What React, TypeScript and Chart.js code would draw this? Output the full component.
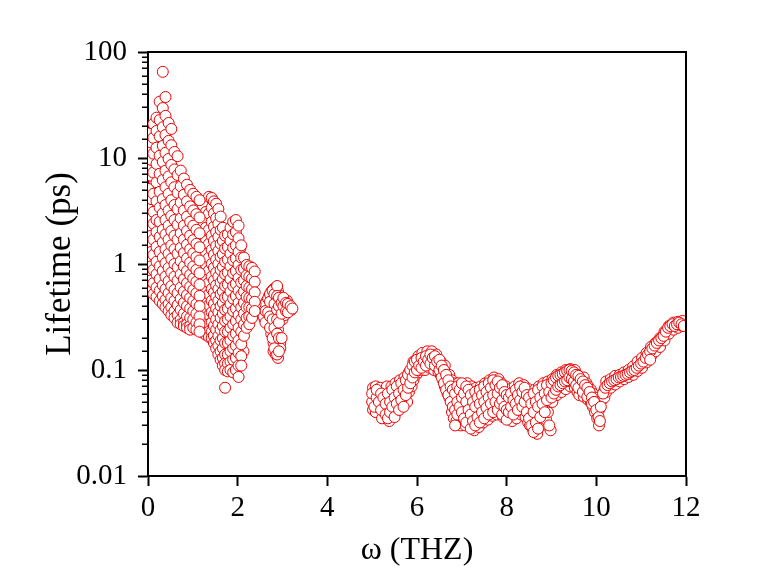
import React, { useEffect, useRef } from "react";
import { Chart, registerables } from "chart.js";

Chart.register(...registerables);

// Acoustic branch, 0–1.2 THz: x = ω (THz), y = lifetime (ps)
const acousticLowPoints: [number, number][] = [
  [0.01, 17], [0.01, 12.5], [0.01, 8.2], [0.01, 5.1], [0.01, 3.3], [0.01, 2.2], [0.01, 1.55], [0.01, 1.1], [0.01, 0.78], [0.01, 0.58],
  [0.07, 14], [0.07, 9.6], [0.07, 6.8], [0.07, 4.1], [0.07, 2.7], [0.07, 1.85], [0.07, 1.3], [0.07, 0.95], [0.07, 0.7], [0.07, 0.55],
  [0.12, 21], [0.12, 15.5], [0.12, 11], [0.12, 7.3], [0.12, 4.6], [0.12, 3.1], [0.12, 2.4], [0.12, 1.7], [0.12, 1.22], [0.12, 0.88], [0.12, 0.66], [0.12, 0.52],
  [0.19, 24], [0.19, 18], [0.19, 12.5], [0.19, 8.8], [0.19, 5.9], [0.19, 3.9], [0.19, 2.6], [0.19, 2.0], [0.19, 1.45], [0.19, 1.05], [0.19, 0.8], [0.19, 0.6], [0.19, 0.49],
  [0.26, 34], [0.26, 22.8], [0.26, 16], [0.26, 10.5], [0.26, 7.1], [0.26, 4.8], [0.26, 3.4], [0.26, 2.5], [0.26, 1.8], [0.26, 1.3], [0.26, 0.95], [0.26, 0.72], [0.26, 0.56], [0.26, 0.45],
  [0.33, 65], [0.33, 29.6], [0.33, 19.5], [0.33, 13], [0.33, 9.2], [0.33, 6.2], [0.33, 4.1], [0.33, 3.0], [0.33, 2.1], [0.33, 1.6], [0.33, 1.15], [0.33, 0.86], [0.33, 0.63], [0.33, 0.5], [0.33, 0.42],
  [0.39, 37.6], [0.39, 25], [0.39, 16.5], [0.39, 11.2], [0.39, 7.6], [0.39, 5.3], [0.39, 3.6], [0.39, 2.6], [0.39, 1.9], [0.39, 1.38], [0.39, 1.02], [0.39, 0.76], [0.39, 0.58], [0.39, 0.46], [0.39, 0.39],
  [0.46, 21.4], [0.46, 14.5], [0.46, 9.8], [0.46, 6.7], [0.46, 4.6], [0.46, 3.2], [0.46, 2.3], [0.46, 1.7], [0.46, 1.25], [0.46, 0.92], [0.46, 0.69], [0.46, 0.53], [0.46, 0.42], [0.46, 0.36],
  [0.52, 18.8], [0.52, 13.2], [0.52, 8.6], [0.52, 5.9], [0.52, 4.0], [0.52, 2.85], [0.52, 2.05], [0.52, 1.5], [0.52, 1.12], [0.52, 0.83], [0.52, 0.62], [0.52, 0.48], [0.52, 0.39], [0.52, 0.33],
  [0.59, 11.4], [0.59, 7.8], [0.59, 5.3], [0.59, 3.6], [0.59, 2.6], [0.59, 1.85], [0.59, 1.38], [0.59, 1.0], [0.59, 0.76], [0.59, 0.57], [0.59, 0.45], [0.59, 0.36], [0.59, 0.31],
  [0.66, 10.4], [0.66, 6.9], [0.66, 4.7], [0.66, 3.3], [0.66, 2.35], [0.66, 1.7], [0.66, 1.25], [0.66, 0.93], [0.66, 0.7], [0.66, 0.53], [0.66, 0.41], [0.66, 0.33], [0.66, 0.28],
  [0.73, 7.6], [0.73, 5.4], [0.73, 3.8], [0.73, 2.7], [0.73, 1.95], [0.73, 1.42], [0.73, 1.06], [0.73, 0.8], [0.73, 0.6], [0.73, 0.47], [0.73, 0.37], [0.73, 0.3], [0.73, 0.27],
  [0.8, 6.4], [0.8, 4.5], [0.8, 3.2], [0.8, 2.3], [0.8, 1.7], [0.8, 1.27], [0.8, 0.95], [0.8, 0.72], [0.8, 0.55], [0.8, 0.43], [0.8, 0.34], [0.8, 0.28], [0.8, 0.26],
  [0.87, 5.6], [0.87, 3.9], [0.87, 2.8], [0.87, 2.05], [0.87, 1.52], [0.87, 1.13], [0.87, 0.86], [0.87, 0.66], [0.87, 0.51], [0.87, 0.4], [0.87, 0.32], [0.87, 0.27], [0.87, 0.25],
  [0.94, 5.0], [0.94, 3.5], [0.94, 2.5], [0.94, 1.85], [0.94, 1.38], [0.94, 1.03], [0.94, 0.79], [0.94, 0.61], [0.94, 0.48], [0.94, 0.38], [0.94, 0.31], [0.94, 0.26], [0.94, 0.24],
  [1.01, 4.6], [1.01, 3.2], [1.01, 2.3], [1.01, 1.68], [1.01, 1.26], [1.01, 0.95], [1.01, 0.73], [1.01, 0.57], [1.01, 0.45], [1.01, 0.36], [1.01, 0.3], [1.01, 0.25],
  [1.08, 4.3], [1.08, 2.95], [1.08, 2.1], [1.08, 1.55], [1.08, 1.16], [1.08, 0.88], [1.08, 0.68], [1.08, 0.53], [1.08, 0.42], [1.08, 0.34], [1.08, 0.28], [1.08, 0.24],
  [1.15, 4.0], [1.15, 2.75], [1.15, 1.95], [1.15, 1.44], [1.15, 1.08], [1.15, 0.82], [1.15, 0.64], [1.15, 0.5], [1.15, 0.4], [1.15, 0.32], [1.15, 0.27], [1.15, 0.23],
];

// Acoustic branch, 1.2–2.4 THz
const acousticHighPoints: [number, number][] = [
  [1.22, 3.6], [1.22, 2.5], [1.22, 1.8], [1.22, 1.35], [1.22, 1.02], [1.22, 0.78], [1.22, 0.6], [1.22, 0.47], [1.22, 0.38], [1.22, 0.31], [1.22, 0.26], [1.22, 0.225],
  [1.29, 3.1], [1.29, 2.2], [1.29, 1.65], [1.29, 1.25], [1.29, 0.96], [1.29, 0.74], [1.29, 0.58], [1.29, 0.45], [1.29, 0.36], [1.29, 0.3], [1.29, 0.25], [1.29, 0.215],
  [1.36, 4.3], [1.36, 3.0], [1.36, 2.1], [1.36, 1.55], [1.36, 1.15], [1.36, 0.87], [1.36, 0.67], [1.36, 0.52], [1.36, 0.41], [1.36, 0.33], [1.36, 0.27], [1.36, 0.23], [1.36, 0.205],
  [1.42, 4.2], [1.42, 3.4], [1.42, 2.5], [1.42, 1.85], [1.42, 1.36], [1.42, 1.0], [1.42, 0.76], [1.42, 0.58], [1.42, 0.45], [1.42, 0.35], [1.42, 0.28], [1.42, 0.23], [1.42, 0.2],
  [1.47, 3.9], [1.47, 3.0], [1.47, 2.25], [1.47, 1.65], [1.47, 1.22], [1.47, 0.92], [1.47, 0.7], [1.47, 0.54], [1.47, 0.42], [1.47, 0.33], [1.47, 0.26], [1.47, 0.21], [1.47, 0.18],
  [1.52, 3.7], [1.52, 2.7], [1.52, 2.0], [1.52, 1.48], [1.52, 1.1], [1.52, 0.83], [1.52, 0.63], [1.52, 0.49], [1.52, 0.38], [1.52, 0.3], [1.52, 0.24], [1.52, 0.19], [1.52, 0.16],
  [1.57, 3.3], [1.57, 2.4], [1.57, 1.8], [1.57, 1.33], [1.57, 1.0], [1.57, 0.76], [1.57, 0.58], [1.57, 0.45], [1.57, 0.35], [1.57, 0.27], [1.57, 0.21], [1.57, 0.17], [1.57, 0.14],
  [1.62, 2.8], [1.62, 2.1], [1.62, 1.55], [1.62, 1.17], [1.62, 0.88], [1.62, 0.67], [1.62, 0.52], [1.62, 0.4], [1.62, 0.31], [1.62, 0.24], [1.62, 0.19], [1.62, 0.15], [1.62, 0.125],
  [1.67, 2.2], [1.67, 1.65], [1.67, 1.24], [1.67, 0.94], [1.67, 0.72], [1.67, 0.55], [1.67, 0.43], [1.67, 0.34], [1.67, 0.26], [1.67, 0.2], [1.67, 0.16], [1.67, 0.13], [1.67, 0.11],
  [1.72, 1.85], [1.72, 1.4], [1.72, 1.05], [1.72, 0.8], [1.72, 0.62], [1.72, 0.48], [1.72, 0.37], [1.72, 0.29], [1.72, 0.23], [1.72, 0.18], [1.72, 0.14], [1.72, 0.115], [1.72, 0.1], [1.72, 0.068],
  [1.78, 1.9], [1.78, 1.45], [1.78, 1.1], [1.78, 0.83], [1.78, 0.64], [1.78, 0.49], [1.78, 0.38], [1.78, 0.3], [1.78, 0.23], [1.78, 0.18], [1.78, 0.14], [1.78, 0.115], [1.78, 0.097],
  [1.84, 2.2], [1.84, 1.65], [1.84, 1.25], [1.84, 0.95], [1.84, 0.72], [1.84, 0.55], [1.84, 0.42], [1.84, 0.32], [1.84, 0.25], [1.84, 0.19], [1.84, 0.15], [1.84, 0.12], [1.84, 0.1],
  [1.9, 2.5], [1.9, 1.9], [1.9, 1.42], [1.9, 1.08], [1.9, 0.82], [1.9, 0.62], [1.9, 0.47], [1.9, 0.36], [1.9, 0.27], [1.9, 0.21], [1.9, 0.16], [1.9, 0.125], [1.9, 0.095],
  [1.96, 2.6], [1.96, 2.0], [1.96, 1.5], [1.96, 1.13], [1.96, 0.86], [1.96, 0.65], [1.96, 0.5], [1.96, 0.38], [1.96, 0.29], [1.96, 0.22], [1.96, 0.17], [1.96, 0.13], [1.96, 0.1],
  [2.02, 2.3], [2.02, 1.75], [2.02, 1.3], [2.02, 0.98], [2.02, 0.74], [2.02, 0.56], [2.02, 0.43], [2.02, 0.33], [2.02, 0.25], [2.02, 0.19], [2.02, 0.145], [2.02, 0.11], [2.02, 0.086],
  [2.08, 1.5], [2.08, 1.15], [2.08, 0.88], [2.08, 0.67], [2.08, 0.51], [2.08, 0.39], [2.08, 0.3], [2.08, 0.23], [2.08, 0.175], [2.08, 0.135], [2.08, 0.11],
  [2.14, 1.15], [2.14, 0.9], [2.14, 0.7], [2.14, 0.55], [2.14, 0.43], [2.14, 0.34], [2.14, 0.27], [2.14, 0.21],
  [2.2, 0.98], [2.2, 0.78], [2.2, 0.62], [2.2, 0.49], [2.2, 0.39], [2.2, 0.31], [2.2, 0.25],
  [2.26, 0.95], [2.26, 0.76], [2.26, 0.6], [2.26, 0.48], [2.26, 0.39], [2.26, 0.32], [2.26, 0.27],
  [2.32, 0.92], [2.32, 0.73], [2.32, 0.58], [2.32, 0.47], [2.32, 0.38], [2.32, 0.31],
  [2.38, 0.85], [2.38, 0.68], [2.38, 0.54], [2.38, 0.44], [2.38, 0.36],
];

// Acoustic-branch points lying off the regular sequences above (drawn on top)
const acousticScatterPoints: [number, number][] = [
  [0.05, 3.8], [0.09, 1.15], [0.14, 6.1], [0.16, 0.74], [0.21, 2.9], [0.24, 13.8], [0.27, 0.64],
  [0.29, 5.4], [0.31, 1.42], [0.36, 9.9], [0.37, 0.53], [0.41, 2.2], [0.43, 4.3], [0.44, 0.82],
  [0.48, 11.7], [0.5, 1.85], [0.54, 0.44], [0.56, 3.1], [0.58, 7.0], [0.61, 1.15], [0.63, 0.35],
  [0.64, 2.05], [0.69, 0.62], [0.7, 5.8], [0.71, 1.6], [0.75, 0.34], [0.77, 2.6], [0.78, 0.88],
  [0.83, 4.1], [0.84, 0.47], [0.86, 1.3], [0.9, 0.29], [0.91, 2.2], [0.93, 0.7], [0.97, 3.7],
  [0.98, 0.41], [1.0, 1.1], [1.04, 0.28], [1.05, 1.9], [1.06, 0.6], [1.11, 3.3], [1.12, 0.37],
  [1.13, 1.25], [1.17, 0.26], [1.19, 2.2], [1.2, 0.72], [1.24, 0.43], [1.26, 1.5], [1.27, 2.8],
  [1.31, 0.33], [1.33, 0.9], [1.34, 1.9], [1.38, 0.25], [1.39, 0.6], [1.4, 3.7], [1.44, 1.2],
  [1.45, 0.4], [1.49, 2.6], [1.5, 0.22], [1.51, 0.75], [1.54, 1.6], [1.55, 0.3], [1.59, 0.5],
  [1.6, 2.2], [1.61, 0.17], [1.64, 0.95], [1.65, 0.36], [1.69, 0.14], [1.7, 0.6], [1.71, 1.3],
  [1.74, 0.25], [1.76, 0.85], [1.77, 0.12], [1.81, 1.6], [1.82, 0.35], [1.85, 0.56], [1.87, 0.13],
  [1.88, 1.15], [1.92, 0.28], [1.93, 2.1], [1.94, 0.7], [1.98, 0.42], [1.99, 0.12], [2.0, 1.05],
  [2.04, 0.2], [2.05, 0.6], [2.06, 1.4], [2.1, 0.32], [2.12, 0.8], [2.13, 0.15], [2.17, 0.45],
  [2.18, 0.95], [2.22, 0.33], [2.24, 0.62], [2.28, 0.42], [2.3, 0.82], [2.34, 0.34], [2.36, 0.55],
  [2.4, 0.42],
];

// Small loop around 2.5–3.2 THz
const loopPoints: [number, number][] = [
  [2.55, 0.35], [2.6, 0.4], [2.6, 0.3], [2.65, 0.45], [2.65, 0.33], [2.7, 0.5], [2.7, 0.38],
  [2.7, 0.28], [2.75, 0.55], [2.75, 0.42], [2.75, 0.22], [2.8, 0.58], [2.8, 0.47], [2.8, 0.35],
  [2.8, 0.18], [2.8, 0.15], [2.85, 0.6], [2.85, 0.4], [2.85, 0.28], [2.85, 0.2], [2.85, 0.14],
  [2.9, 0.55], [2.9, 0.45], [2.9, 0.33], [2.9, 0.24], [2.9, 0.16], [2.9, 0.13], [2.95, 0.5],
  [2.95, 0.38], [2.95, 0.18], [2.95, 0.16], [3.0, 0.45], [3.0, 0.36], [3.0, 0.3], [3.05, 0.42],
  [3.05, 0.33], [3.1, 0.45], [3.1, 0.38], [3.15, 0.4], [3.2, 0.37],
  [2.58, 0.38], [2.58, 0.32], [2.62, 0.42], [2.62, 0.36], [2.62, 0.28], [2.68, 0.47], [2.68, 0.35],
  [2.72, 0.52], [2.72, 0.44], [2.72, 0.32], [2.72, 0.25], [2.78, 0.56], [2.78, 0.3], [2.78, 0.2],
  [2.82, 0.52], [2.82, 0.42], [2.82, 0.25], [2.82, 0.16], [2.88, 0.62], [2.88, 0.5], [2.88, 0.37],
  [2.88, 0.3], [2.88, 0.22], [2.88, 0.14], [2.92, 0.48], [2.92, 0.4], [2.92, 0.28], [2.92, 0.2],
  [2.92, 0.15], [2.98, 0.43], [2.98, 0.34], [2.98, 0.2], [3.02, 0.48], [3.02, 0.4], [3.08, 0.43],
  [3.08, 0.36], [3.12, 0.42], [3.12, 0.35], [3.18, 0.4], [3.22, 0.38],
];

// Optical branch 5–12 THz
const opticalPoints: [number, number][] = [
  [5.0, 0.05], [5.0, 0.06], [5.05, 0.045], [5.1, 0.055], [5.1, 0.065], [5.15, 0.05], [5.2, 0.06],
  [5.2, 0.042], [5.25, 0.055], [5.3, 0.048], [5.3, 0.038], [5.35, 0.06], [5.35, 0.035], [5.4, 0.05],
  [5.4, 0.04], [5.45, 0.065], [5.45, 0.045], [5.5, 0.055], [5.5, 0.036], [5.55, 0.07], [5.55, 0.048],
  [5.6, 0.06], [5.6, 0.042], [5.65, 0.075], [5.65, 0.052], [5.7, 0.065], [5.7, 0.045], [5.75, 0.08],
  [5.75, 0.058], [5.8, 0.09], [5.8, 0.068], [5.85, 0.1], [5.85, 0.075], [5.9, 0.11], [5.9, 0.085],
  [5.95, 0.12], [5.95, 0.095], [6.0, 0.125], [6.0, 0.1], [6.05, 0.11], [6.1, 0.13], [6.1, 0.105],
  [6.15, 0.12], [6.2, 0.135], [6.2, 0.11], [6.25, 0.125], [6.3, 0.14], [6.3, 0.115], [6.35, 0.13],
  [6.4, 0.135], [6.4, 0.11], [6.45, 0.12], [6.5, 0.125], [6.5, 0.1], [6.55, 0.11], [6.55, 0.085],
  [6.6, 0.1], [6.6, 0.075], [6.65, 0.09], [6.65, 0.065], [6.7, 0.08], [6.7, 0.058], [6.75, 0.07],
  [6.75, 0.05], [6.8, 0.065], [6.8, 0.045],
  [6.85, 0.06], [6.85, 0.042], [6.85, 0.03], [6.9, 0.07], [6.9, 0.05], [6.9, 0.038], [6.95, 0.065],
  [6.95, 0.045], [7.0, 0.075], [7.0, 0.055], [7.0, 0.04], [7.05, 0.06], [7.05, 0.035], [7.1, 0.07],
  [7.1, 0.05], [7.1, 0.032], [7.15, 0.065], [7.15, 0.042], [7.2, 0.058], [7.2, 0.038], [7.2, 0.028],
  [7.25, 0.05], [7.25, 0.033], [7.3, 0.062], [7.3, 0.045], [7.3, 0.03], [7.35, 0.055], [7.35, 0.036],
  [7.4, 0.065], [7.4, 0.048], [7.4, 0.032], [7.45, 0.058], [7.45, 0.04], [7.5, 0.07], [7.5, 0.05],
  [7.5, 0.035], [7.55, 0.062], [7.55, 0.044], [7.6, 0.075], [7.6, 0.055], [7.6, 0.038], [7.65, 0.068],
  [7.65, 0.048], [7.7, 0.08], [7.7, 0.058], [7.7, 0.04], [7.75, 0.072], [7.75, 0.05], [7.8, 0.078],
  [7.8, 0.06], [7.8, 0.042], [7.85, 0.068], [7.85, 0.048], [7.9, 0.072], [7.9, 0.052], [7.9, 0.038],
  [7.95, 0.062], [7.95, 0.045], [8.0, 0.058], [8.0, 0.042], [8.0, 0.034], [8.05, 0.055], [8.05, 0.04],
  [8.1, 0.06], [8.1, 0.045], [8.15, 0.052], [8.15, 0.038], [8.2, 0.065], [8.2, 0.048], [8.25, 0.058],
  [8.25, 0.042], [8.3, 0.07], [8.3, 0.052], [8.35, 0.062], [8.35, 0.045], [8.4, 0.068], [8.4, 0.05],
  [8.45, 0.058], [8.45, 0.04], [8.5, 0.055], [8.5, 0.035], [8.55, 0.048], [8.55, 0.03], [8.6, 0.06],
  [8.6, 0.04], [8.6, 0.026], [8.65, 0.05], [8.65, 0.032], [8.7, 0.065], [8.7, 0.045], [8.7, 0.028],
  [8.75, 0.055], [8.75, 0.036], [8.8, 0.07], [8.8, 0.048], [8.85, 0.06], [8.85, 0.04], [8.9, 0.072],
  [8.9, 0.052], [8.95, 0.062], [8.95, 0.03], [9.0, 0.075], [9.0, 0.055],
  [9.05, 0.08], [9.05, 0.06], [9.1, 0.085], [9.1, 0.065], [9.15, 0.088], [9.15, 0.07], [9.2, 0.09],
  [9.2, 0.072], [9.25, 0.092], [9.25, 0.075], [9.3, 0.095], [9.3, 0.078], [9.35, 0.098], [9.35, 0.08],
  [9.4, 0.1], [9.4, 0.085], [9.45, 0.098], [9.45, 0.082], [9.5, 0.095], [9.5, 0.078], [9.55, 0.09],
  [9.55, 0.072], [9.6, 0.088], [9.6, 0.068], [9.65, 0.082], [9.7, 0.078], [9.7, 0.062], [9.75, 0.072],
  [9.8, 0.068], [9.8, 0.056], [9.85, 0.062], [9.9, 0.055], [9.9, 0.048], [9.95, 0.05], [10.0, 0.042],
  [10.05, 0.036], [10.08, 0.033], [10.1, 0.045], [10.15, 0.06],
  [10.2, 0.068], [10.25, 0.072], [10.3, 0.075], [10.35, 0.078], [10.4, 0.08], [10.45, 0.082],
  [10.5, 0.085], [10.55, 0.086], [10.6, 0.088], [10.65, 0.09], [10.7, 0.092], [10.75, 0.095],
  [10.8, 0.098], [10.85, 0.1], [10.9, 0.105], [10.95, 0.11], [11.0, 0.115], [11.05, 0.12],
  [11.1, 0.13], [11.15, 0.14], [11.2, 0.15], [11.2, 0.125], [11.25, 0.16], [11.3, 0.17],
  [11.35, 0.18], [11.4, 0.19], [11.45, 0.2], [11.5, 0.21], [11.55, 0.23], [11.6, 0.25],
  [11.65, 0.26], [11.7, 0.27], [11.75, 0.26], [11.8, 0.27], [11.85, 0.28], [11.9, 0.27], [11.95, 0.26],
];

// Further optical-branch points filling out the band
const opticalFillPoints: [number, number][] = [
  [5.02, 0.068], [5.02, 0.042], [5.08, 0.07], [5.08, 0.05], [5.08, 0.04], [5.12, 0.045],
  [5.18, 0.068], [5.18, 0.052], [5.22, 0.035], [5.22, 0.048], [5.28, 0.065], [5.28, 0.04],
  [5.33, 0.07], [5.33, 0.045], [5.38, 0.058], [5.38, 0.033], [5.43, 0.07], [5.43, 0.052],
  [5.43, 0.038], [5.48, 0.06], [5.48, 0.043], [5.52, 0.075], [5.52, 0.05], [5.52, 0.04],
  [5.58, 0.065], [5.58, 0.045], [5.62, 0.08], [5.62, 0.052], [5.68, 0.07], [5.68, 0.05],
  [5.72, 0.085], [5.72, 0.06], [5.78, 0.075], [5.78, 0.05], [5.82, 0.095], [5.82, 0.062],
  [5.88, 0.1], [5.88, 0.07], [5.92, 0.12], [5.92, 0.08], [5.98, 0.11], [5.98, 0.09],
  [6.03, 0.135], [6.03, 0.095], [6.08, 0.12], [6.08, 0.1], [6.12, 0.145], [6.12, 0.115],
  [6.18, 0.13], [6.18, 0.1], [6.23, 0.15], [6.23, 0.12], [6.28, 0.13], [6.28, 0.105],
  [6.33, 0.15], [6.33, 0.12], [6.38, 0.125], [6.38, 0.1], [6.43, 0.14], [6.43, 0.11],
  [6.48, 0.115], [6.48, 0.095], [6.53, 0.12], [6.53, 0.09], [6.58, 0.095], [6.58, 0.08],
  [6.62, 0.11], [6.62, 0.07], [6.68, 0.085], [6.68, 0.06], [6.72, 0.09], [6.72, 0.055],
  [6.78, 0.08], [6.78, 0.055], [6.78, 0.04], [6.82, 0.075], [6.82, 0.05], [6.82, 0.035],
  [6.88, 0.065], [6.88, 0.045], [6.88, 0.033], [6.92, 0.075], [6.92, 0.055], [6.92, 0.04],
  [6.98, 0.06], [6.98, 0.042], [6.98, 0.03], [7.02, 0.07], [7.02, 0.048], [7.02, 0.036],
  [7.08, 0.06], [7.08, 0.042], [7.08, 0.03], [7.12, 0.075], [7.12, 0.055], [7.12, 0.038],
  [7.18, 0.062], [7.18, 0.045], [7.18, 0.031], [7.22, 0.07], [7.22, 0.05], [7.22, 0.035],
  [7.28, 0.06], [7.28, 0.04], [7.28, 0.027], [7.32, 0.068], [7.32, 0.05], [7.32, 0.034],
  [7.38, 0.058], [7.38, 0.042], [7.38, 0.029], [7.42, 0.07], [7.42, 0.052], [7.42, 0.036],
  [7.48, 0.062], [7.48, 0.045], [7.48, 0.032], [7.52, 0.075], [7.52, 0.056], [7.52, 0.04],
  [7.58, 0.066], [7.58, 0.048], [7.58, 0.034], [7.62, 0.08], [7.62, 0.06], [7.62, 0.042],
  [7.68, 0.072], [7.68, 0.052], [7.68, 0.037], [7.72, 0.085], [7.72, 0.062], [7.72, 0.045],
  [7.78, 0.07], [7.78, 0.052], [7.78, 0.038], [7.82, 0.082], [7.82, 0.064], [7.82, 0.046],
  [7.88, 0.075], [7.88, 0.055], [7.88, 0.04], [7.92, 0.068], [7.92, 0.05], [7.92, 0.036],
  [7.98, 0.07], [7.98, 0.052], [7.98, 0.038], [8.02, 0.062], [8.02, 0.048], [8.02, 0.036],
  [8.08, 0.066], [8.08, 0.05], [8.08, 0.037], [8.12, 0.058], [8.12, 0.042], [8.12, 0.033],
  [8.18, 0.07], [8.18, 0.055], [8.18, 0.04], [8.22, 0.06], [8.22, 0.045], [8.22, 0.035],
  [8.28, 0.075], [8.28, 0.058], [8.28, 0.045], [8.32, 0.065], [8.32, 0.048], [8.32, 0.038],
  [8.38, 0.072], [8.38, 0.056], [8.38, 0.043], [8.42, 0.062], [8.42, 0.046], [8.42, 0.036],
  [8.48, 0.066], [8.48, 0.048], [8.48, 0.032], [8.52, 0.058], [8.52, 0.042], [8.52, 0.03],
  [8.58, 0.052], [8.58, 0.035], [8.58, 0.028], [8.62, 0.065], [8.62, 0.045], [8.62, 0.03],
  [8.68, 0.058], [8.68, 0.04], [8.68, 0.025], [8.72, 0.07], [8.72, 0.05], [8.72, 0.034],
  [8.78, 0.062], [8.78, 0.042], [8.78, 0.03], [8.82, 0.075], [8.82, 0.052], [8.82, 0.038],
  [8.88, 0.065], [8.88, 0.046], [8.88, 0.034], [8.92, 0.078], [8.92, 0.056], [8.92, 0.04],
  [8.98, 0.068], [8.98, 0.05], [8.98, 0.027], [9.02, 0.082], [9.02, 0.065], [9.02, 0.05],
  [9.08, 0.075], [9.08, 0.058], [9.12, 0.09], [9.12, 0.072], [9.12, 0.058], [9.18, 0.08],
  [9.18, 0.065], [9.22, 0.095], [9.22, 0.078], [9.22, 0.062], [9.28, 0.085], [9.28, 0.07],
  [9.32, 0.1], [9.32, 0.082], [9.32, 0.066], [9.38, 0.09], [9.38, 0.075], [9.42, 0.102],
  [9.42, 0.088], [9.42, 0.07], [9.48, 0.092], [9.48, 0.075], [9.52, 0.1], [9.52, 0.085],
  [9.52, 0.068], [9.58, 0.09], [9.58, 0.075], [9.58, 0.062], [9.62, 0.085], [9.62, 0.07],
  [9.62, 0.058], [9.68, 0.08], [9.68, 0.065], [9.72, 0.085], [9.72, 0.07], [9.72, 0.056],
  [9.78, 0.075], [9.78, 0.06], [9.82, 0.07], [9.82, 0.052], [9.88, 0.065], [9.88, 0.05],
  [9.92, 0.06], [9.92, 0.045], [9.97, 0.055], [9.97, 0.04], [10.02, 0.048], [10.02, 0.035],
  [10.06, 0.042], [10.06, 0.03], [10.12, 0.052], [10.18, 0.065], [10.18, 0.055],
  [10.22, 0.078], [10.22, 0.062], [10.32, 0.082], [10.32, 0.068], [10.42, 0.088], [10.42, 0.073],
  [10.52, 0.09], [10.52, 0.078], [10.62, 0.095], [10.62, 0.082], [10.72, 0.1], [10.72, 0.086],
  [10.82, 0.108], [10.82, 0.09], [10.92, 0.12], [10.92, 0.098], [11.02, 0.13], [11.02, 0.105],
  [11.12, 0.145], [11.12, 0.118], [11.22, 0.165], [11.22, 0.135], [11.32, 0.18], [11.32, 0.15],
  [11.42, 0.2], [11.42, 0.165], [11.52, 0.23], [11.52, 0.19], [11.62, 0.26], [11.62, 0.22],
  [11.72, 0.28], [11.72, 0.24], [11.82, 0.285], [11.82, 0.25], [11.92, 0.29], [11.92, 0.26],
];

const yTickValues = [0.01, 0.1, 1, 10, 100];
const yTickLabels = ["0.01", "0.1", "1", "10", "100"];
const xTitle = "ω (THZ)";
const yTitle = "Lifetime (ps)";

const FONT = "'Liberation Serif', 'Times New Roman', serif";
const RED = "rgb(238, 0, 0)";

const isMajorLog = (v: number) =>
  yTickValues.some((t) => Math.abs(v - t) / t < 1e-6);

const labelFor = (v: number) => {
  const i = yTickValues.findIndex((t) => Math.abs(v - t) / t < 1e-6);
  return i >= 0 ? yTickLabels[i] : "";
};

const framePlugin = {
  id: "frameAndMinorTicks",
  afterDraw(chart: any) {
    const { ctx, chartArea: a, scales } = chart;
    const y = scales.y;
    ctx.save();
    ctx.strokeStyle = "#000";
    ctx.lineWidth = 2;
    ctx.beginPath();
    ctx.moveTo(a.left - 1, a.top);
    ctx.lineTo(a.right, a.top);
    ctx.lineTo(a.right, a.bottom + 1);
    ctx.stroke();
    ctx.lineWidth = 1.5;
    ctx.beginPath();
    for (const t of y.ticks) {
      if (isMajorLog(t.value)) continue;
      const py = Math.round(y.getPixelForValue(t.value)) + 0.25;
      ctx.moveTo(a.left - 6, py);
      ctx.lineTo(a.left, py);
    }
    ctx.stroke();
    ctx.restore();
  },
};

const toXY = (pts: [number, number][]) => pts.map(([x, y]) => ({ x, y }));

export default function App() {
  const canvasRef = useRef<HTMLCanvasElement | null>(null);

  useEffect(() => {
    document.body.style.margin = "0";
    const canvas = canvasRef.current;
    if (!canvas) return;
    const pointStyle = {
      pointRadius: 5.5,
      pointBorderWidth: 1,
      borderColor: RED,
      backgroundColor: "#ffffff",
      pointBackgroundColor: "#ffffff",
      pointBorderColor: RED,
      clip: { left: 0, top: 0, right: 0, bottom: 0 },
    };
    const chart = new Chart(canvas, {
      type: "scatter",
      data: {
        datasets: [
          { label: "acoustic low", data: toXY(acousticLowPoints), ...pointStyle },
          { label: "acoustic high", data: toXY(acousticHighPoints), ...pointStyle },
          { label: "acoustic scatter", data: toXY(acousticScatterPoints), ...pointStyle },
          { label: "loop", data: toXY(loopPoints), ...pointStyle },
          { label: "optical", data: toXY(opticalPoints), ...pointStyle },
          { label: "optical fill", data: toXY(opticalFillPoints), ...pointStyle },
        ],
      },
      options: {
        animation: false,
        responsive: false,
        devicePixelRatio: 1,
        layout: { padding: { top: 52, right: 98, left: 0, bottom: 0 } },
        plugins: {
          legend: { display: false },
          tooltip: { enabled: false },
        },
        scales: {
          x: {
            type: "linear",
            min: 0,
            max: 12,
            afterFit: (s: any) => {
              s.height = 112;
            },
            ticks: {
              stepSize: 2,
              color: "#000",
              padding: 5,
              font: { family: FONT, size: 29 },
              maxRotation: 0,
            },
            grid: {
              display: true,
              drawOnChartArea: false,
              drawTicks: true,
              tickLength: 10,
              tickWidth: 2,
              tickColor: "#000",
            },
            border: { display: true, color: "#000", width: 2 },
            title: {
              display: true,
              text: xTitle,
              color: "#000",
              font: { family: FONT, size: 32 },
              padding: { top: 0, bottom: 18 },
            },
          },
          y: {
            type: "logarithmic",
            min: 0.01,
            max: 100,
            afterFit: (s: any) => {
              s.width = 148;
            },
            ticks: {
              autoSkip: false,
              color: "#000",
              padding: 11,
              font: { family: FONT, size: 29 },
              callback: (v: any) => labelFor(Number(v)),
            },
            grid: {
              display: true,
              drawOnChartArea: false,
              drawTicks: true,
              tickLength: 10,
              tickWidth: 2,
              tickColor: (c: any) =>
                c.tick && isMajorLog(c.tick.value) ? "#000" : "rgba(0,0,0,0)",
            },
            border: { display: true, color: "#000", width: 2 },
            title: {
              display: true,
              text: yTitle,
              color: "#000",
              font: { family: FONT, size: 35 },
              padding: { top: 40, bottom: 0 },
            },
          },
        },
      },
      plugins: [framePlugin],
    } as any);
    return () => chart.destroy();
  }, []);

  return (
    <div style={{ width: 784, height: 588, background: "#fff" }}>
      <canvas ref={canvasRef} width={784} height={588} style={{ display: "block" }} />
    </div>
  );
}
